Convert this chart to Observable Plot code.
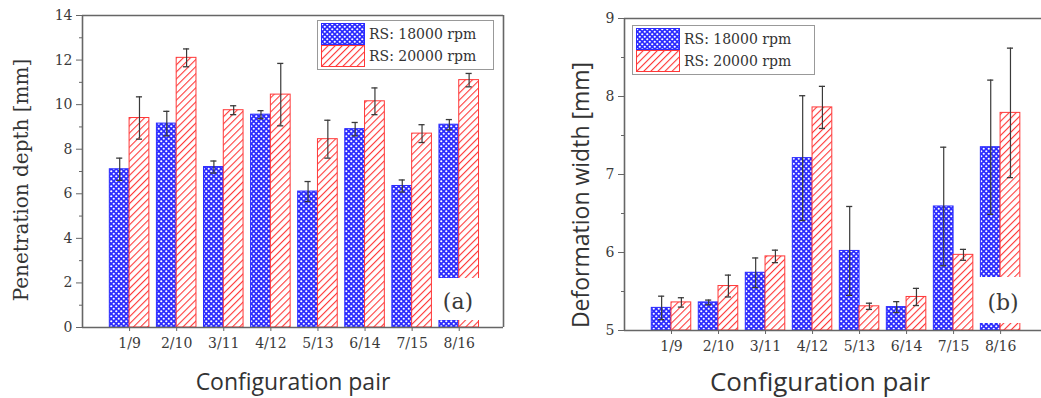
<!DOCTYPE html>
<html>
<head>
<meta charset="utf-8">
<script src="https://cdn.jsdelivr.net/npm/d3@7"></script>
<script src="https://cdn.jsdelivr.net/npm/@observablehq/plot@0.6"></script>
<style>
  html, body { margin: 0; padding: 0; background: #fff; }
  #wrap { position: relative; width: 1041px; height: 398px; overflow: hidden; background: #fff; }
  #wrap svg.plot { position: absolute; top: 0; }
  .title { position: absolute; color: #333; white-space: nowrap; }
  .ytitle { transform: translate(-50%, -50%) rotate(-90deg); transform-origin: center; }
  .xtitle { transform: translate(-50%, -50%); }
  .legend { position: absolute; border: 1px solid #999; background: #fff; font-family: "DejaVu Serif", serif; font-size: 14px; color: #333; }
  .legend .row { display: flex; align-items: center; height: 22px; }
  .legend svg { display: block; margin-right: 4px; }
  .panelbox { position: absolute; background: #fff; }
  .panellabel { position: absolute; font-family: "DejaVu Serif", serif; font-size: 22px; color: #3a3a3a; transform: translate(-50%, -50%); }
</style>
</head>
<body>
<svg width="0" height="0" style="position:absolute">
  <defs>
    <pattern id="blueDots" width="5" height="5" patternUnits="userSpaceOnUse">
      <rect width="5" height="5" fill="#2b2bff"/>
      <circle cx="1.25" cy="1.25" r="1.1" fill="#fff"/>
      <circle cx="3.75" cy="3.75" r="1.1" fill="#fff"/>
    </pattern>
    <pattern id="redHatch" width="5" height="5" patternUnits="userSpaceOnUse" patternTransform="rotate(45)">
      <rect width="5" height="5" fill="#fff"/>
      <line x1="0" y1="0" x2="0" y2="5" stroke="#ff3838" stroke-width="2.2"/>
    </pattern>
  </defs>
</svg>
<div id="wrap"></div>
<script>
// ---- data ----
const categories = ["1/9", "2/10", "3/11", "4/12", "5/13", "6/14", "7/15", "8/16"];
const seriesNames = ["RS: 18000 rpm", "RS: 20000 rpm"];

// (a) Penetration depth [mm]
const depth18 = [7.1, 9.15, 7.2, 9.55, 6.1, 8.9, 6.35, 9.1];
const depth18Err = [0.5, 0.55, 0.27, 0.18, 0.45, 0.3, 0.27, 0.23];
const depth20 = [9.4, 12.1, 9.75, 10.45, 8.45, 10.15, 8.7, 11.1];
const depth20Err = [0.95, 0.4, 0.2, 1.4, 0.85, 0.6, 0.4, 0.3];
const depthTicks = [0, 2, 4, 6, 8, 10, 12, 14];
const depthMinor = [1, 3, 5, 7, 9, 11, 13];

// (b) Deformation width [mm]
const width18 = [5.29, 5.36, 5.74, 7.21, 6.02, 5.30, 6.59, 7.35];
const width18Err = [0.15, 0.03, 0.19, 0.8, 0.57, 0.07, 0.76, 0.86];
const width20 = [5.36, 5.57, 5.95, 7.86, 5.31, 5.43, 5.97, 7.79];
const width20Err = [0.06, 0.14, 0.08, 0.27, 0.04, 0.11, 0.07, 0.83];
const widthTicks = [5, 6, 7, 8, 9];
const widthMinor = [5.5, 6.5, 7.5, 8.5];

const BAR_W = 0.42;   // bar width in category units
const CAP = 0.065;    // half-width of error caps

function rowsFor(v18, e18, v20, e20) {
  const rows = [];
  categories.forEach((c, i) => {
    rows.push({cat: c, s: 0, x1: i + 1 - BAR_W, x2: i + 1, mid: i + 1 - BAR_W / 2, v: v18[i], e: e18[i]});
    rows.push({cat: c, s: 1, x1: i + 1, x2: i + 1 + BAR_W, mid: i + 1 + BAR_W / 2, v: v20[i], e: e20[i]});
  });
  return rows;
}

function panel({rows, yDomain, xMax, ticks, minor, width, marginLeft, marginRight, marginTop, marginBottom, frameRight}) {
  const base = yDomain[0];
  const axisColor = "#666";
  const marks = [
    Plot.rect(rows, {
      x1: "x1", x2: "x2", y1: () => base, y2: "v",
      fill: d => d.s === 0 ? "url(#blueDots)" : "url(#redHatch)",
      stroke: d => d.s === 0 ? "#2b2bff" : "#ff3838",
      strokeWidth: 1
    }),
    Plot.ruleX(rows, {x: "mid", y1: d => d.v - d.e, y2: d => d.v + d.e, stroke: "#3a3a3a", strokeWidth: 1.2}),
    Plot.ruleY(rows, {y: d => d.v + d.e, x1: d => d.mid - CAP, x2: d => d.mid + CAP, stroke: "#3a3a3a", strokeWidth: 1.3}),
    Plot.ruleY(rows, {y: d => d.v - d.e, x1: d => d.mid - CAP, x2: d => d.mid + CAP, stroke: "#3a3a3a", strokeWidth: 1.3}),
    Plot.axisY({ticks, tickSize: 6, tickPadding: 4, fontSize: 14, tickFormat: d => String(d), label: null, stroke: axisColor, fill: "#3a3a3a"}),
    Plot.axisY({ticks: minor, tickSize: 3, tickFormat: () => "", label: null, stroke: axisColor}),
    Plot.axisX({ticks: d3.range(1, categories.length + 1), tickFormat: i => categories[i - 1], tickSize: 4, tickPadding: 7, fontSize: 14, label: null, stroke: axisColor, fill: "#3a3a3a"}),
    Plot.ruleX([0], {stroke: axisColor, strokeWidth: 1.6}),
    Plot.ruleY([yDomain[0]], {stroke: axisColor, strokeWidth: 1.6}),
    Plot.ruleY([yDomain[1]], {stroke: axisColor, strokeWidth: 1.6})
  ];
  if (frameRight) marks.push(Plot.ruleX([xMax], {stroke: axisColor, strokeWidth: 1.6}));
  return Plot.plot({
    width, height: 398, marginLeft, marginRight, marginTop, marginBottom,
    style: {fontFamily: "DejaVu Serif, serif", fontSize: "14px", background: "transparent", overflow: "visible"},
    x: {type: "linear", domain: [0, xMax], axis: null},
    y: {domain: yDomain, axis: null},
    marks
  });
}

const wrap = document.getElementById("wrap");

const left = panel({
  rows: rowsFor(depth18, depth18Err, depth20, depth20Err),
  yDomain: [0, 14], xMax: 8.94, ticks: depthTicks, minor: depthMinor,
  width: 520, marginLeft: 82, marginRight: 17, marginTop: 15, marginBottom: 71, frameRight: true
});
left.classList.add("plot");
left.style.left = "0px";
wrap.appendChild(left);

const right = panel({
  rows: rowsFor(width18, width18Err, width20, width20Err),
  yDomain: [5, 9], xMax: 8.87, ticks: widthTicks, minor: widthMinor,
  width: 521, marginLeft: 104, marginRight: 0, marginTop: 18, marginBottom: 68, frameRight: false
});
right.classList.add("plot");
right.style.left = "520px";
wrap.appendChild(right);

function addDiv(cls, css, text) {
  const d = document.createElement("div");
  d.className = cls;
  Object.assign(d.style, css);
  if (text != null) d.textContent = text;
  wrap.appendChild(d);
  return d;
}

// panel label boxes
addDiv("panelbox", {left: "432px", top: "278px", width: "69px", height: "42px"});
addDiv("panellabel", {left: "458px", top: "301px"}, "(a)");
addDiv("panelbox", {left: "975px", top: "277px", width: "66px", height: "46px"});
addDiv("panellabel", {left: "1003px", top: "302px"}, "(b)");

// legends
function legend(x, y, w) {
  const lg = addDiv("legend", {left: x + "px", top: y + "px", width: w + "px", padding: "2px 0 2px 3px"});
  seriesNames.forEach((name, k) => {
    const row = document.createElement("div");
    row.className = "row";
    const sw = document.createElementNS("http://www.w3.org/2000/svg", "svg");
    sw.setAttribute("width", 44); sw.setAttribute("height", 22);
    const r = document.createElementNS("http://www.w3.org/2000/svg", "rect");
    r.setAttribute("x", 0.5); r.setAttribute("y", 0.5); r.setAttribute("width", 43); r.setAttribute("height", 21);
    r.setAttribute("fill", k === 0 ? "url(#blueDots)" : "url(#redHatch)");
    r.setAttribute("stroke", k === 0 ? "#2b2bff" : "#ff3838");
    sw.appendChild(r);
    row.appendChild(sw);
    const t = document.createElement("span");
    t.textContent = name;
    row.appendChild(t);
    lg.appendChild(row);
  });
}
legend(317, 20, 172);
legend(632, 25, 178);

// axis titles
addDiv("title ytitle", {left: "21px", top: "180px", fontFamily: "DejaVu Serif, serif", fontSize: "20px"}, "Penetration depth [mm]");
addDiv("title xtitle", {left: "293px", top: "381px", fontFamily: "Open Sans, sans-serif", fontSize: "23px"}, "Configuration pair");
addDiv("title ytitle", {left: "580px", top: "195px", fontFamily: "Open Sans, sans-serif", fontSize: "23px"}, "Deformation width [mm]");
addDiv("title xtitle", {left: "820px", top: "381px", fontFamily: "Open Sans, sans-serif", fontSize: "26px"}, "Configuration pair");
</script>
</body>
</html>
